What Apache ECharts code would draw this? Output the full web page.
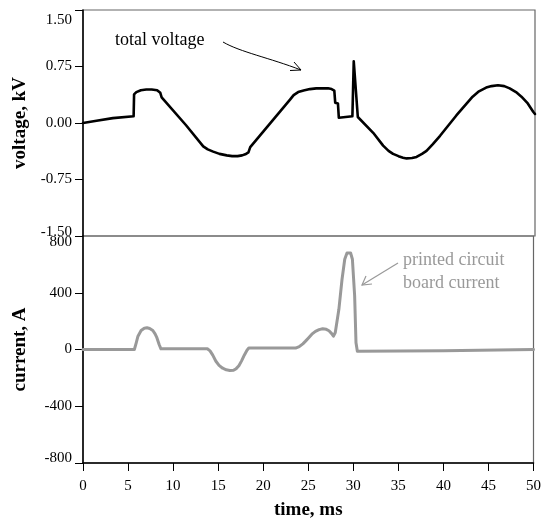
<!DOCTYPE html>
<html>
<head>
<meta charset="utf-8">
<script src="https://cdn.jsdelivr.net/npm/echarts@6/dist/echarts.min.js"></script>
<style>
  html, body { margin: 0; padding: 0; background: #fff; }
  #chart { width: 544px; height: 522px; }
</style>
</head>
<body>
<div id="chart"></div>
<script>
  // tick labels
  var voltageTicks = ['-1.50', '-0.75', '0.00', '0.75', '1.50'];
  var currentTicks = ['-800', '-400', '0', '400', '800'];

  // total voltage, kV (time in ms)
  var vTime = [0, 1.5, 3.3, 5.6, 5.65, 5.9, 6.4, 7.0, 7.6, 8.2, 8.55, 8.7, 11.4, 13.3, 13.8, 14.4, 15.1, 15.9, 16.5, 17.1, 17.6, 17.95, 18.3, 18.5,
    22.9, 23.3, 23.8, 24.4, 25.1, 25.8, 26.5, 27.1, 27.5, 27.8, 27.9, 28.2, 28.3, 29.8, 29.95, 30.15, 30.4, 32.1, 33.2, 33.8, 34.3, 34.9,
    35.4, 35.8, 36.4, 36.9, 37.5, 38.0, 38.7, 39.5, 41.3, 43.1, 43.8, 44.6, 45.2, 45.9, 46.6, 47.2, 47.9, 48.5, 49.2, 49.8, 50];
  var vValues = [0, 0.03, 0.065, 0.09, 0.38, 0.41, 0.435, 0.445, 0.445, 0.435, 0.40, 0.34, -0.03, -0.31, -0.35, -0.38, -0.41, -0.43, -0.44, -0.44, -0.43, -0.415, -0.39, -0.32,
    0.31, 0.37, 0.41, 0.43, 0.45, 0.46, 0.46, 0.46, 0.45, 0.43, 0.27, 0.26, 0.07, 0.09, 0.82, 0.82, 0.08, -0.13, -0.30, -0.37, -0.41, -0.44,
    -0.46, -0.47, -0.465, -0.45, -0.41, -0.37, -0.28, -0.17, 0.10, 0.35, 0.42, 0.47, 0.49, 0.50, 0.49, 0.46, 0.41, 0.35, 0.26, 0.15, 0.12];

  // printed circuit board current, A
  var iTime = [0, 5.7, 5.9, 6.1, 6.45, 6.8, 7.1, 7.4, 7.75, 8.0, 8.2, 8.45, 8.65,
    13.8, 14.1, 14.4, 14.75, 15.1, 15.5, 15.9, 16.3, 16.7, 17.0, 17.3, 17.6, 17.9, 18.2, 18.4,
    23.6, 24.0, 24.4, 24.7, 25.0, 25.4, 25.8, 26.2, 26.6, 27.0, 27.3, 27.6, 27.8, 28.0, 28.4, 28.75, 29.05, 29.3, 29.5, 29.7, 29.9,
    30.15, 30.3, 30.45, 40, 50];
  var iValues = [0, 0, 45, 94, 134, 150, 153, 148, 134, 110, 83, 35, 5,
    5, -10, -40, -83, -112, -132, -143, -148, -147, -135, -115, -80, -40, -5, 10,
    10, 20, 40, 59, 80, 108, 128, 140, 146, 142, 132, 112, 94, 120, 283, 495, 636, 680, 690, 680, 636,
    377, 47, -12, -8, 0];

  function pairs(xs, ys) {
    var out = [];
    for (var i = 0; i < xs.length; i++) out.push([xs[i], ys[i]]);
    return out;
  }

  var serif = '"Liberation Serif", "Times New Roman", serif';

  function edgeFormatter(ticks, fmt) {
    return function (v) {
      var s = fmt(v);
      if (s === ticks[ticks.length - 1]) return '{t|' + s + '}';
      if (s === ticks[0]) return '{b|' + s + '}';
      return s;
    };
  }

  var myChart = echarts.init(document.getElementById('chart'));
  myChart.setOption({
    animation: false,
    grid: [
      { left: 83, right: 9, top: 10, height: 226, show: true, borderColor: '#666', borderWidth: 1.2, backgroundColor: 'transparent' },
      { left: 83, right: 9, top: 236, height: 227, show: true, borderColor: '#666', borderWidth: 1.2, backgroundColor: 'transparent' }
    ],
    xAxis: [
      {
        gridIndex: 0, type: 'value', min: 0, max: 50, interval: 5,
        axisLine: { show: false }, axisTick: { show: false }, axisLabel: { show: false }, splitLine: { show: false }
      },
      {
        gridIndex: 1, type: 'value', min: 0, max: 50, interval: 5,
        name: 'time, ms', nameLocation: 'middle', nameGap: 38,
        nameTextStyle: { fontFamily: serif, fontWeight: 'bold', fontSize: 19, color: '#000' },
        axisLine: { show: true, onZero: false, lineStyle: { color: '#000', width: 1.5 } },
        axisTick: { show: true, length: 8, lineStyle: { color: '#000', width: 1 } },
        axisLabel: { margin: 16, fontFamily: serif, fontSize: 15, color: '#000' },
        splitLine: { show: false }
      }
    ],
    yAxis: [
      {
        gridIndex: 0, type: 'value', min: -1.5, max: 1.5, interval: 0.75,
        name: 'voltage, kV', nameLocation: 'middle', nameGap: 53,
        nameTextStyle: { fontFamily: serif, fontWeight: 'bold', fontSize: 19, color: '#000' },
        axisLine: { show: true, onZero: false, lineStyle: { color: '#000', width: 1.5 } },
        axisTick: { show: true, length: 8, lineStyle: { color: '#000', width: 1 } },
        axisLabel: {
          margin: 11, fontFamily: serif, fontSize: 15, color: '#000',
          formatter: edgeFormatter(voltageTicks, function (v) { return v.toFixed(2); }),
          rich: {
            t: { fontFamily: serif, fontSize: 15, color: '#000', padding: [20, 0, 0, 0] },
            b: { fontFamily: serif, fontSize: 15, color: '#000', padding: [0, 0, 8, 0] }
          }
        },
        splitLine: { show: false }
      },
      {
        gridIndex: 1, type: 'value', min: -800, max: 800, interval: 400,
        name: 'current, A', nameLocation: 'middle', nameGap: 53,
        nameTextStyle: { fontFamily: serif, fontWeight: 'bold', fontSize: 19, color: '#000' },
        axisLine: { show: true, onZero: false, lineStyle: { color: '#000', width: 1.5 } },
        axisTick: { show: true, length: 8, lineStyle: { color: '#000', width: 1 } },
        axisLabel: {
          margin: 11, fontFamily: serif, fontSize: 15, color: '#000',
          formatter: edgeFormatter(currentTicks, function (v) { return String(v); }),
          rich: {
            t: { fontFamily: serif, fontSize: 15, color: '#000', padding: [12, 0, 0, 0] },
            b: { fontFamily: serif, fontSize: 15, color: '#000', padding: [0, 0, 9, 0] }
          }
        },
        splitLine: { show: false }
      }
    ],
    series: [
      {
        name: 'total voltage', type: 'line', xAxisIndex: 0, yAxisIndex: 0,
        data: pairs(vTime, vValues), showSymbol: false,
        lineStyle: { color: '#000', width: 2.6, join: 'round', cap: 'round' }
      },
      {
        name: 'printed circuit board current', type: 'line', xAxisIndex: 1, yAxisIndex: 1,
        data: pairs(iTime, iValues), showSymbol: false,
        lineStyle: { color: '#999', width: 3, join: 'round', cap: 'round' }
      }
    ],
    graphic: [
      { type: 'text', left: 115, top: 31, style: { text: 'total voltage', font: '18px ' + serif, fill: '#000' } },
      {
        type: 'bezierCurve',
        shape: { x1: 223, y1: 42, cpx1: 240, cpy1: 52, cpx2: 270, cpy2: 58, x2: 301, y2: 70 },
        style: { stroke: '#000', lineWidth: 1, fill: null }
      },
      {
        type: 'polyline',
        shape: { points: [[290, 70.5], [301, 70], [294, 62]] },
        style: { stroke: '#000', lineWidth: 1, fill: null }
      },
      { type: 'text', left: 403, top: 249, style: { text: 'printed circuit\nboard current', font: '18px ' + serif, fill: '#999', lineHeight: 23 } },
      {
        type: 'line',
        shape: { x1: 398, y1: 263, x2: 362, y2: 285 },
        style: { stroke: '#999', lineWidth: 1.2 }
      },
      {
        type: 'polyline',
        shape: { points: [[366, 276], [362, 285], [372, 284]] },
        style: { stroke: '#999', lineWidth: 1.2, fill: null }
      }
    ]
  });
</script>
</body>
</html>
